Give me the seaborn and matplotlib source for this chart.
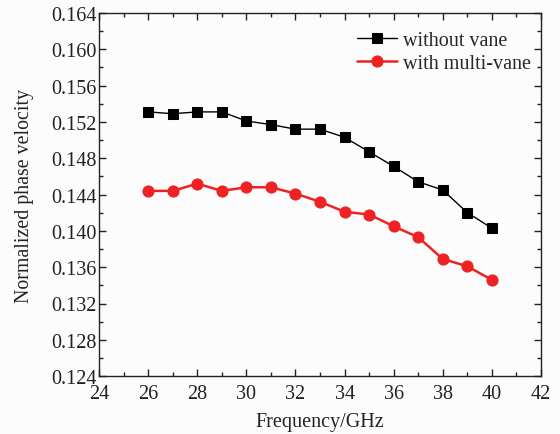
import matplotlib
matplotlib.use("Agg")
import matplotlib.pyplot as plt
import seaborn as sns
import pandas as pd
from matplotlib.ticker import MultipleLocator

freq = [26, 27, 28, 29, 30, 31, 32, 33, 34, 35, 36, 37, 38, 39, 40]
without_vane = [0.1531, 0.1529, 0.1531, 0.1531, 0.1521, 0.1517, 0.1512, 0.1512,
                0.1503, 0.1487, 0.1471, 0.1454, 0.1445, 0.1420, 0.1403]
with_multi_vane = [0.1444, 0.1444, 0.1452, 0.1444, 0.1448, 0.1448, 0.1441, 0.1432,
                   0.1421, 0.1418, 0.1405, 0.1393, 0.1369, 0.1361, 0.1346]
series_names = ["without vane", "with multi-vane"]

sns.set_style("ticks")
plt.rcParams["font.family"] = ["Liberation Serif", "DejaVu Serif"]

df1 = pd.DataFrame({"f": freq, "v": without_vane})
df2 = pd.DataFrame({"f": freq, "v": with_multi_vane})

fig = plt.figure(figsize=(5.6, 4.35), dpi=100)
fig.patch.set_facecolor("#fcfcfc")
ax = fig.add_axes([0.177, 0.133, 0.789, 0.835])
ax.set_facecolor("#fcfcfc")

sns.lineplot(data=df1, x="f", y="v", ax=ax, color="black", marker="s",
             markersize=7, markeredgecolor="black", linewidth=1.0,
             label=series_names[0])
sns.lineplot(data=df2, x="f", y="v", ax=ax, color="#ee2222", marker="o",
             markersize=8, markeredgecolor="#ee2222", linewidth=1.8,
             label=series_names[1])

ax.set_xlim(24, 42)
ax.set_ylim(0.124, 0.164)
ax.xaxis.set_major_locator(MultipleLocator(2))
ax.xaxis.set_minor_locator(MultipleLocator(1))
ax.yaxis.set_major_locator(MultipleLocator(0.004))
ax.yaxis.set_minor_locator(MultipleLocator(0.002))
ax.yaxis.set_major_formatter(matplotlib.ticker.FormatStrFormatter("%.3f"))
ax.tick_params(which="both", direction="in", top=True, right=True,
               labelsize=14.5, colors="#222222", width=1.0)
ax.tick_params(which="major", length=5)
ax.tick_params(axis="y", which="major", pad=2)
ax.tick_params(axis="x", which="major", pad=6)
ax.tick_params(which="minor", length=3)
for s in ax.spines.values():
    s.set_visible(True)
    s.set_linewidth(1.0)
    s.set_color("#222222")

ax.set_xlabel("Frequency/GHz", fontsize=14.5, color="#222222", labelpad=6)
ax.set_ylabel("Normalized phase velocity", fontsize=14.3, color="#222222", labelpad=12)

leg = ax.legend(loc="upper right", frameon=False, fontsize=14.5,
                bbox_to_anchor=(1.01, 0.99), handlelength=2.0,
                handletextpad=0.3, borderaxespad=0.3, labelspacing=0.2)

fig.savefig("out.png", dpi=100, facecolor=fig.get_facecolor())
